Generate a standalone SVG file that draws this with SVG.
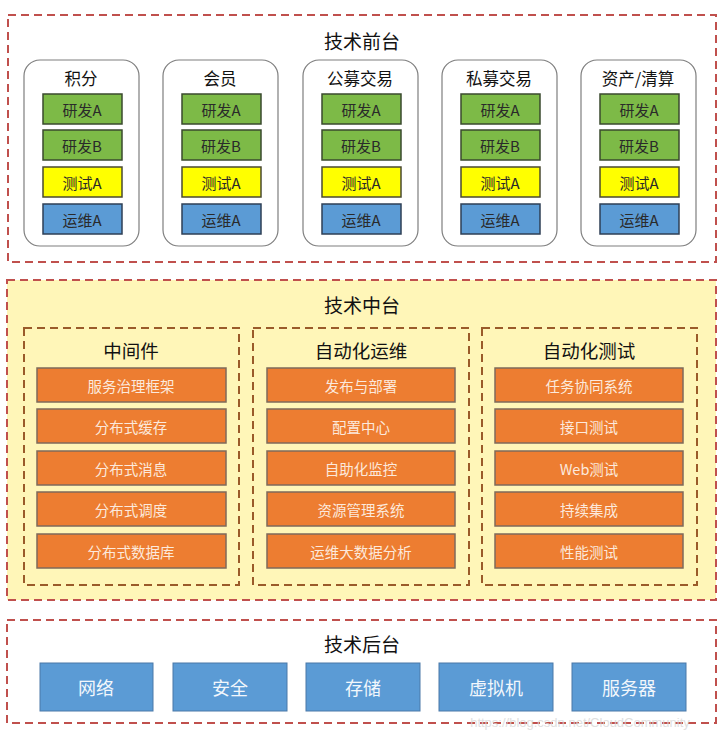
<svg xmlns="http://www.w3.org/2000/svg" width="724" height="739" viewBox="0 0 724 739">
<style>
text{font-family:"Noto Sans CJK SC","Noto Sans",sans-serif;text-anchor:middle;dominant-baseline:central}
.frame{fill:none;stroke:#C0504D;stroke-width:2;stroke-dasharray:8,5}
.mid{fill:#FFF6B8;stroke:#C0504D;stroke-width:2;stroke-dasharray:8,5}
.sub{fill:#FFF6B8;stroke:#9A5B2A;stroke-width:2;stroke-dasharray:8,5}
.title{font-size:19px;fill:#111}
.card{fill:#fff;stroke:#7F7F7F;stroke-width:1.2}
.ctitle{font-size:16.5px;fill:#111}
.g{fill:#7DBA47;stroke:#3A4A2E;stroke-width:1.5}
.y{fill:#FFFF00;stroke:#4A4A30;stroke-width:1.5}
.b{fill:#5B9BD5;stroke:#2E3F55;stroke-width:1.5}
.t{font-size:15px;fill:#2A2A2A}
.o{fill:#ED7D31;stroke:#7F6A5A;stroke-width:1.5}
.ot{font-size:14.5px;fill:#FCE9DC}
.stitle{font-size:18.5px;fill:#111}
.bb{fill:#5B9BD5;stroke:#4A78A8;stroke-width:1}
.bt{font-size:18px;fill:#F2F7FC}
</style>
<rect x="0" y="0" width="724" height="739" fill="#fff"/>

<g id="front">
<rect class="frame" x="8" y="15" width="708" height="247"/>
<text class="title" x="362" y="40">技术前台</text>
</g>

<g id="card-jifen">
<rect class="card" x="24" y="60" width="115" height="186" rx="16"/>
<text class="ctitle" x="81" y="78">积分</text>
<rect class="g" x="43" y="94" width="79" height="30"/><text class="t" x="82" y="109">研发A</text>
<rect class="g" x="43" y="130" width="79" height="30"/><text class="t" x="82" y="145">研发B</text>
<rect class="y" x="43" y="167" width="79" height="30"/><text class="t" x="82" y="182">测试A</text>
<rect class="b" x="43" y="204" width="79" height="30"/><text class="t" x="82" y="219">运维A</text>
</g>
<g id="card-huiyuan">
<rect class="card" x="163" y="60" width="115" height="186" rx="16"/>
<text class="ctitle" x="220" y="78">会员</text>
<rect class="g" x="182" y="94" width="79" height="30"/><text class="t" x="221" y="109">研发A</text>
<rect class="g" x="182" y="130" width="79" height="30"/><text class="t" x="221" y="145">研发B</text>
<rect class="y" x="182" y="167" width="79" height="30"/><text class="t" x="221" y="182">测试A</text>
<rect class="b" x="182" y="204" width="79" height="30"/><text class="t" x="221" y="219">运维A</text>
</g>
<g id="card-gongmu">
<rect class="card" x="303" y="60" width="115" height="186" rx="16"/>
<text class="ctitle" x="360" y="78">公募交易</text>
<rect class="g" x="322" y="94" width="79" height="30"/><text class="t" x="361" y="109">研发A</text>
<rect class="g" x="322" y="130" width="79" height="30"/><text class="t" x="361" y="145">研发B</text>
<rect class="y" x="322" y="167" width="79" height="30"/><text class="t" x="361" y="182">测试A</text>
<rect class="b" x="322" y="204" width="79" height="30"/><text class="t" x="361" y="219">运维A</text>
</g>
<g id="card-simu">
<rect class="card" x="442" y="60" width="115" height="186" rx="16"/>
<text class="ctitle" x="499" y="78">私募交易</text>
<rect class="g" x="461" y="94" width="79" height="30"/><text class="t" x="500" y="109">研发A</text>
<rect class="g" x="461" y="130" width="79" height="30"/><text class="t" x="500" y="145">研发B</text>
<rect class="y" x="461" y="167" width="79" height="30"/><text class="t" x="500" y="182">测试A</text>
<rect class="b" x="461" y="204" width="79" height="30"/><text class="t" x="500" y="219">运维A</text>
</g>
<g id="card-zichan">
<rect class="card" x="581" y="60" width="115" height="186" rx="16"/>
<text class="ctitle" x="638" y="78">资产/清算</text>
<rect class="g" x="600" y="94" width="79" height="30"/><text class="t" x="639" y="109">研发A</text>
<rect class="g" x="600" y="130" width="79" height="30"/><text class="t" x="639" y="145">研发B</text>
<rect class="y" x="600" y="167" width="79" height="30"/><text class="t" x="639" y="182">测试A</text>
<rect class="b" x="600" y="204" width="79" height="30"/><text class="t" x="639" y="219">运维A</text>
</g>

<g id="middle">
<rect class="mid" x="7" y="280" width="709" height="320"/>
<text class="title" x="362" y="304">技术中台</text>
</g>

<g id="middleware">
<rect class="sub" x="24" y="328" width="215" height="257"/>
<text class="stitle" x="131" y="350">中间件</text>
<rect class="o" x="37" y="368" width="189" height="34"/><text class="ot" x="131" y="385">服务治理框架</text>
<rect class="o" x="37" y="409" width="189" height="34"/><text class="ot" x="131" y="426">分布式缓存</text>
<rect class="o" x="37" y="451" width="189" height="34"/><text class="ot" x="131" y="468">分布式消息</text>
<rect class="o" x="37" y="492" width="189" height="34"/><text class="ot" x="131" y="509">分布式调度</text>
<rect class="o" x="37" y="534" width="189" height="34"/><text class="ot" x="131" y="551">分布式数据库</text>
</g>
<g id="auto-ops">
<rect class="sub" x="253" y="328" width="216" height="257"/>
<text class="stitle" x="361" y="350">自动化运维</text>
<rect class="o" x="267" y="368" width="188" height="34"/><text class="ot" x="361" y="385">发布与部署</text>
<rect class="o" x="267" y="409" width="188" height="34"/><text class="ot" x="361" y="426">配置中心</text>
<rect class="o" x="267" y="451" width="188" height="34"/><text class="ot" x="361" y="468">自助化监控</text>
<rect class="o" x="267" y="492" width="188" height="34"/><text class="ot" x="361" y="509">资源管理系统</text>
<rect class="o" x="267" y="534" width="188" height="34"/><text class="ot" x="361" y="551">运维大数据分析</text>
</g>
<g id="auto-test">
<rect class="sub" x="482" y="328" width="215" height="257"/>
<text class="stitle" x="589" y="350">自动化测试</text>
<rect class="o" x="495" y="368" width="188" height="34"/><text class="ot" x="589" y="385">任务协同系统</text>
<rect class="o" x="495" y="409" width="188" height="34"/><text class="ot" x="589" y="426">接口测试</text>
<rect class="o" x="495" y="451" width="188" height="34"/><text class="ot" x="589" y="468">Web测试</text>
<rect class="o" x="495" y="492" width="188" height="34"/><text class="ot" x="589" y="509">持续集成</text>
<rect class="o" x="495" y="534" width="188" height="34"/><text class="ot" x="589" y="551">性能测试</text>
</g>

<g id="back">
<rect class="frame" x="7" y="620" width="709" height="103"/>
<text class="title" x="362" y="643">技术后台</text>
</g>
<g id="b-net"><rect class="bb" x="40" y="663" width="113" height="48"/><text class="bt" x="96" y="687">网络</text></g>
<g id="b-sec"><rect class="bb" x="173" y="663" width="114" height="48"/><text class="bt" x="230" y="687">安全</text></g>
<g id="b-sto"><rect class="bb" x="306" y="663" width="114" height="48"/><text class="bt" x="363" y="687">存储</text></g>
<g id="b-vm"><rect class="bb" x="439" y="663" width="114" height="48"/><text class="bt" x="496" y="687">虚拟机</text></g>
<g id="b-srv"><rect class="bb" x="572" y="663" width="114" height="48"/><text class="bt" x="629" y="687">服务器</text></g>

<g id="connectors"></g>

<text x="580" y="722" style="font-family:'Liberation Sans',sans-serif;font-size:13px;fill:#D8D8D8;opacity:0.8">https://blog.csdn.net/CloudCommunity</text>
</svg>
